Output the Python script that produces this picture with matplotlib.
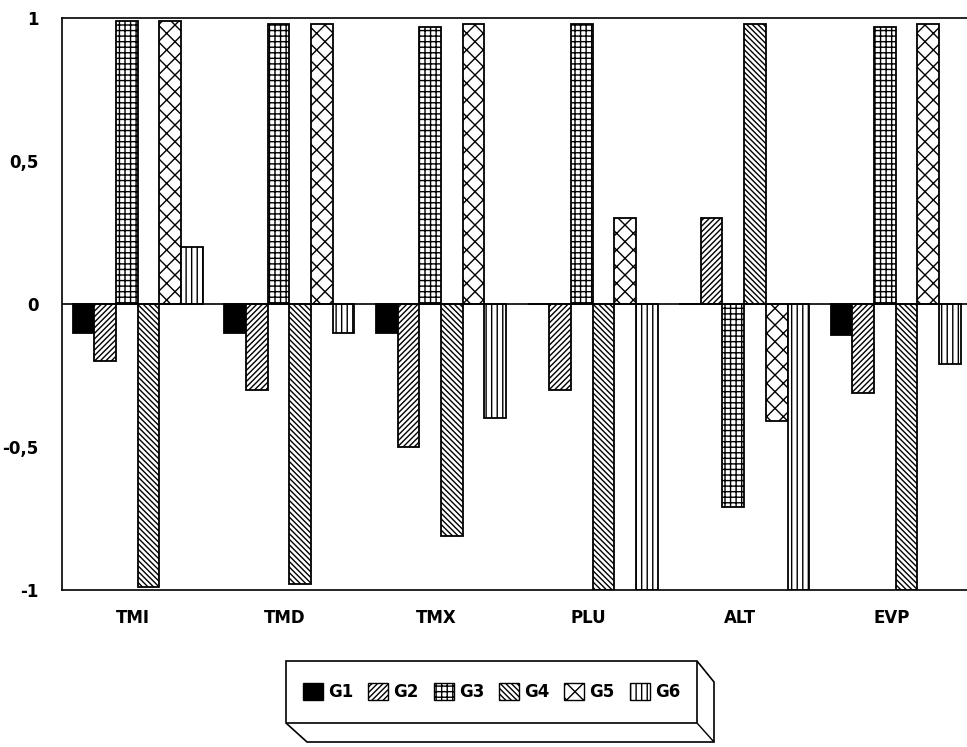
import numpy as np
import matplotlib.pyplot as plt
from matplotlib.patches import Patch, Polygon

# data
categories = ['TMI', 'TMD', 'TMX', 'PLU', 'ALT', 'EVP']
groups = ['G1', 'G2', 'G3', 'G4', 'G5', 'G6']
g1 = [-0.10, -0.10, -0.10, 0.00, 0.00, -0.11]
g2 = [-0.20, -0.30, -0.50, -0.30, 0.30, -0.31]
g3 = [0.99, 0.98, 0.97, 0.98, -0.71, 0.97]
g4 = [-0.99, -0.98, -0.81, -1.00, 0.98, -1.00]
g5 = [0.99, 0.98, 0.98, 0.30, -0.41, 0.98]
g6 = [0.20, -0.10, -0.40, -1.00, -1.00, -0.21]
series = [g1, g2, g3, g4, g5, g6]

fills = ['black', 'white', 'white', 'white', 'white', 'white']
hatches = [None, '//////', '+++', '\\\\\\\\\\\\', 'xx', '|||']

plt.rcParams['hatch.linewidth'] = 1.0
plt.rcParams['font.family'] = ['DejaVu Sans']

fig = plt.figure(figsize=(9.67, 7.47), dpi=100)
ax = fig.add_axes([62/967, 157/747, 1 - 62/967, 572/747])

x = np.arange(len(categories))
w = 0.143
for i, vals in enumerate(series):
    ax.bar(x + (i - 2.5) * w, vals, w, color=fills[i], edgecolor='black',
           hatch=hatches[i], linewidth=1.3, label=groups[i])

ax.axhline(0, color='black', linewidth=1.2)
ax.set_xlim(-0.5, 5.47)
ax.set_ylim(-1, 1)
ax.set_yticks([-1, -0.5, 0, 0.5, 1])
ax.set_yticklabels(['-1', '-0,5', '0', '0,5', '1'], fontsize=12, fontweight='bold')
ax.set_xticks(x - 0.03)
ax.set_xticklabels(categories, fontsize=12, fontweight='bold')
ax.tick_params(length=0, pad=14)
ax.tick_params(axis='y', pad=17)
ax.spines['right'].set_visible(False)
for s in ['left', 'top', 'bottom']:
    ax.spines[s].set_linewidth(1.2)

# legend as a 3d box, like the original
fx0, fx1, fy0, fy1 = 286, 697, 661, 723
d = 17
def px(xp, yp):
    return (xp / 967, 1 - yp / 747)
box = [px(fx0, fy0), px(fx1, fy0), px(fx1 + d, fy0 + d + 4), px(fx1 + d, fy1 + d + 2),
       px(fx0 + d + 4, fy1 + d + 2), px(fx0, fy1)]
fig.patches.append(Polygon(box, closed=True, transform=fig.transFigure,
                           facecolor='white', edgecolor='black', linewidth=1.2))
fig.patches.append(Polygon([px(fx0, fy1), px(fx1, fy1), px(fx1, fy0)], closed=False,
                           transform=fig.transFigure, fill=False,
                           edgecolor='black', linewidth=1.2))
fig.patches.append(Polygon([px(fx1, fy1), px(fx1 + d, fy1 + d + 2)], closed=False,
                           transform=fig.transFigure, fill=False,
                           edgecolor='black', linewidth=1.0))

handles = [Patch(facecolor=fills[i], edgecolor='black', hatch=hatches[i], label=groups[i])
           for i in range(len(groups))]
fig.legend(handles=handles, loc='center', bbox_to_anchor=px((fx0 + fx1) / 2, (fy0 + fy1) / 2),
           ncol=6, frameon=False, handlelength=1.2, handleheight=1.2,
           handletextpad=0.3, columnspacing=0.9,
           prop={'weight': 'bold', 'size': 12})

fig.savefig('out.png', dpi=100)
